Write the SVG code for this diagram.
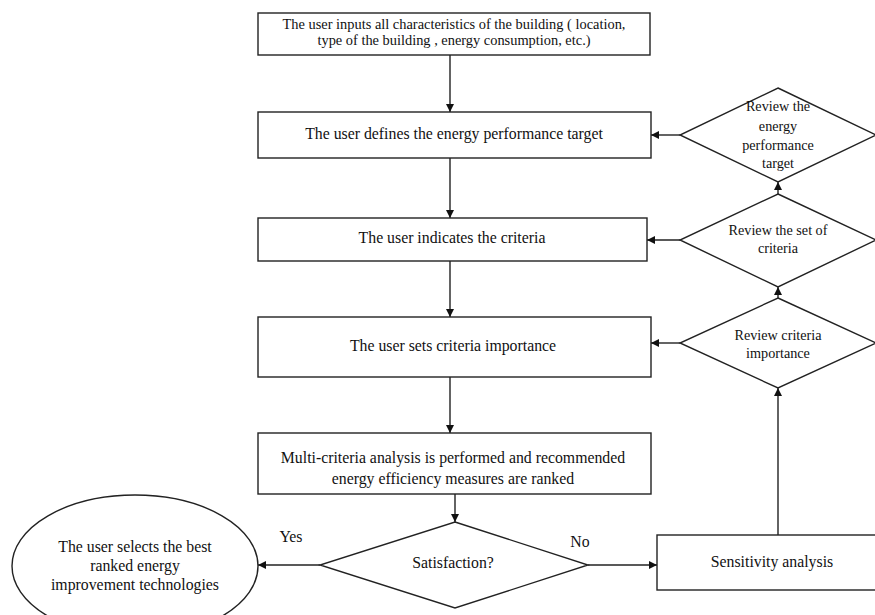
<svg xmlns="http://www.w3.org/2000/svg" width="875" height="615" viewBox="0 0 875 615">
<defs>
<style>
.n{fill:#fff;stroke:#222;stroke-width:1.4}
.c{stroke:#222;stroke-width:1.4;fill:none;marker-end:url(#ah)}
text{font-family:"Liberation Serif","Times New Roman",serif;fill:#111;text-anchor:middle}
.t{font-size:15.8px}
.h{font-size:14.4px}
.s{font-size:14.2px}
</style>
<marker id="ah" viewBox="0 0 10 10" refX="10" refY="5" markerWidth="8" markerHeight="8" markerUnits="userSpaceOnUse" orient="auto">
<path d="M0,0 L10,5 L0,10 z" fill="#111"/>
</marker>
</defs>
<rect width="875" height="615" fill="#fff"/>
<g id="connectors">
<line class="c" x1="450" y1="55" x2="450" y2="112"/>
<line class="c" x1="450" y1="158" x2="450" y2="218"/>
<line class="c" x1="450" y1="261" x2="450" y2="317"/>
<line class="c" x1="450" y1="377" x2="450" y2="433"/>
<line class="c" x1="455" y1="494" x2="455" y2="522"/>
<line class="c" x1="320" y1="565" x2="258" y2="565"/>
<line class="c" x1="588" y1="565" x2="657" y2="565"/>
<line class="c" x1="778" y1="535" x2="778" y2="388"/>
<line class="c" x1="778" y1="298" x2="778" y2="287"/>
<line class="c" x1="778" y1="194" x2="778" y2="182"/>
<line class="c" x1="680" y1="343" x2="651" y2="343"/>
<line class="c" x1="680" y1="240" x2="647" y2="240"/>
<line class="c" x1="680" y1="135" x2="651" y2="135"/>
</g>
<g id="n1">
<rect class="n" x="258" y="13" width="392" height="42"/>
<text class="h" x="454" y="29">The user inputs all characteristics of the building ( location,</text>
<text class="h" x="454" y="45">type of the building , energy consumption, etc.)</text>
</g>
<g id="n2">
<rect class="n" x="258" y="112" width="393" height="46"/>
<text class="t" x="454" y="139">The user defines the energy performance target</text>
</g>
<g id="n3">
<rect class="n" x="258" y="218" width="389" height="43"/>
<text class="t" x="452" y="243">The user indicates the criteria</text>
</g>
<g id="n4">
<rect class="n" x="258" y="317" width="393" height="60"/>
<text class="t" x="453" y="351">The user sets criteria importance</text>
</g>
<g id="n5">
<rect class="n" x="258" y="433" width="393" height="61"/>
<text class="t" x="453" y="463">Multi-criteria analysis is performed and recommended</text>
<text class="t" x="453" y="484">energy efficiency measures are ranked</text>
</g>
<g id="n6">
<polygon class="n" points="455,522 588,565 455,608 320,565"/>
<text class="t" x="453" y="568">Satisfaction?</text>
</g>
<g id="n7">
<ellipse class="n" cx="135" cy="566" rx="123" ry="71"/>
<text class="t" x="135" y="552">The user selects the best</text>
<text class="t" x="135" y="571">ranked energy</text>
<text class="t" x="135" y="590">improvement technologies</text>
</g>
<g id="n8">
<rect class="n" x="657" y="535" width="230" height="55"/>
<text class="t" x="772" y="567">Sensitivity analysis</text>
</g>
<g id="n9">
<polygon class="n" points="778,88 876,135 778,182 680,135"/>
<text class="s" x="778" y="111">Review the</text>
<text class="s" x="778" y="131">energy</text>
<text class="s" x="778" y="150">performance</text>
<text class="s" x="778" y="168">target</text>
</g>
<g id="n10">
<polygon class="n" points="778,194 876,240 778,287 680,240"/>
<text class="s" x="778" y="235">Review the set of</text>
<text class="s" x="778" y="253">criteria</text>
</g>
<g id="n11">
<polygon class="n" points="778,298 876,343 778,388 680,343"/>
<text class="s" x="778" y="340">Review criteria</text>
<text class="s" x="778" y="358">importance</text>
</g>
<g id="labels">
<text class="t" x="291" y="542">Yes</text>
<text class="t" x="580" y="547">No</text>
</g>
</svg>
